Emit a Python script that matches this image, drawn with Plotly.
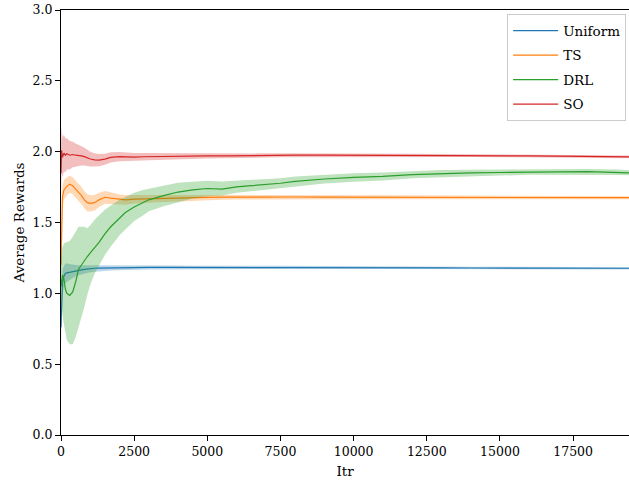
import plotly.graph_objects as go

ITR = [0, 20, 50, 100, 150, 200, 300, 400, 500, 600, 700, 800, 900, 1000,
       1150, 1300, 1500, 1700, 2000, 2200, 2500, 2800, 3000, 3500, 4000,
       4500, 5000, 5500, 6000, 6500, 7000, 7500, 8000, 9000, 10000, 11000,
       12000, 13000, 14000, 15000, 16000, 17000, 18000, 19000, 19410]

UNIFORM_MEAN = [0.76, 0.98, 1.08, 1.12, 1.14, 1.145,
                1.15, 1.155, 1.16, 1.163, 1.166, 1.169, 1.172, 1.175,
                1.177, 1.178, 1.179, 1.18,
                1.181, 1.182, 1.182, 1.183, 1.183,
                1.183, 1.183, 1.183, 1.184, 1.184, 1.184, 1.184, 1.185, 1.185, 1.184,
                1.183, 1.182, 1.181, 1.18, 1.18, 1.179, 1.179, 1.178, 1.178, 1.177, 1.177,
                1.177]
UNIFORM_SPREAD = [0.12, 0.1, 0.085, 0.075, 0.07, 0.065,
                  0.055, 0.045, 0.04, 0.036, 0.033, 0.03, 0.028, 0.026,
                  0.024, 0.022, 0.02, 0.019,
                  0.018, 0.017, 0.016, 0.015, 0.015,
                  0.014, 0.013, 0.012, 0.012, 0.011, 0.011, 0.011, 0.01, 0.01, 0.01,
                  0.01, 0.009, 0.009, 0.009, 0.009, 0.008, 0.008, 0.008, 0.008, 0.008, 0.008,
                  0.008]

TS_MEAN = [1.2, 1.5, 1.68, 1.73, 1.745, 1.755,
           1.77, 1.76, 1.735, 1.715, 1.69, 1.66, 1.64, 1.635,
           1.64, 1.66, 1.678, 1.672,
           1.662, 1.66, 1.665, 1.667, 1.668,
           1.67, 1.672, 1.675, 1.677, 1.679, 1.68, 1.68, 1.68, 1.68, 1.68,
           1.679, 1.679, 1.678, 1.678, 1.678, 1.677, 1.677, 1.676, 1.676, 1.675, 1.675,
           1.675]
TS_SPREAD = [0.25, 0.12, 0.08, 0.07, 0.065, 0.063,
             0.06, 0.06, 0.06, 0.06, 0.06, 0.06, 0.06, 0.058,
             0.055, 0.05, 0.045, 0.041,
             0.036, 0.034, 0.031, 0.029, 0.027,
             0.025, 0.023, 0.021, 0.02, 0.019, 0.018, 0.017, 0.017, 0.016, 0.016,
             0.015, 0.014, 0.014, 0.013, 0.013, 0.012, 0.012, 0.012, 0.011, 0.011, 0.011,
             0.011]

DRL_MEAN = [1.1, 1.05, 1.13, 1.1, 1.03, 1.0,
            0.985, 1.01, 1.08, 1.17, 1.2, 1.235, 1.26, 1.285,
            1.32, 1.36, 1.42, 1.47,
            1.53, 1.57, 1.61, 1.64, 1.66,
            1.69, 1.715, 1.73, 1.74, 1.735, 1.752, 1.76, 1.768, 1.777, 1.79,
            1.807, 1.818, 1.825, 1.838, 1.845, 1.85, 1.853, 1.858, 1.858, 1.859, 1.855,
            1.851]
DRL_LOW = [0.95, 0.9, 0.85, 0.78, 0.72, 0.67,
           0.64, 0.64, 0.69, 0.76, 0.83, 0.905, 0.99, 1.06,
           1.14, 1.2, 1.27, 1.33,
           1.41, 1.45, 1.51, 1.55, 1.58,
           1.615, 1.645, 1.67, 1.685, 1.69, 1.71, 1.72, 1.73, 1.742, 1.755,
           1.775, 1.788, 1.797, 1.812, 1.82, 1.827, 1.831, 1.837, 1.838, 1.84, 1.836,
           1.833]
DRL_HIGH = [1.25, 1.3, 1.33, 1.35, 1.36, 1.36,
            1.37, 1.4, 1.44, 1.47, 1.47, 1.47, 1.46, 1.48,
            1.52, 1.55, 1.59, 1.62,
            1.66, 1.68, 1.71, 1.73, 1.74,
            1.76, 1.78, 1.79, 1.795, 1.79, 1.795, 1.80, 1.806, 1.812, 1.825,
            1.839, 1.848, 1.853, 1.864, 1.87, 1.873, 1.875, 1.879, 1.878, 1.878, 1.874,
            1.869]

SO_MEAN = [1.85, 2.01, 1.96, 1.99, 1.975, 1.985,
           1.975, 1.98, 1.975, 1.975, 1.97, 1.965, 1.955, 1.948,
           1.942, 1.94, 1.947, 1.96,
           1.965, 1.963, 1.962, 1.964, 1.965,
           1.966, 1.966, 1.968, 1.97, 1.97, 1.972, 1.972, 1.973, 1.974, 1.975,
           1.975, 1.975, 1.974, 1.974, 1.973, 1.972, 1.971, 1.97, 1.968, 1.966, 1.964,
           1.963]
SO_SPREAD = [0.2, 0.16, 0.14, 0.13, 0.12, 0.11,
             0.1, 0.09, 0.082, 0.075, 0.068, 0.062, 0.057, 0.052,
             0.047, 0.043, 0.039, 0.036,
             0.032, 0.03, 0.028, 0.026, 0.025,
             0.022, 0.02, 0.019, 0.018, 0.017, 0.016, 0.015, 0.015, 0.014, 0.014,
             0.013, 0.012, 0.012, 0.011, 0.011, 0.01, 0.01, 0.01, 0.01, 0.01, 0.01,
             0.01]

X_TICKS = [0, 2500, 5000, 7500, 10000, 12500, 15000, 17500]
Y_TICKS = [0.0, 0.5, 1.0, 1.5, 2.0, 2.5, 3.0]

series = [
    ("Uniform", "#1f77b4", "rgba(31,119,180,0.3)", UNIFORM_MEAN,
     [m - s for m, s in zip(UNIFORM_MEAN, UNIFORM_SPREAD)],
     [m + s for m, s in zip(UNIFORM_MEAN, UNIFORM_SPREAD)]),
    ("TS", "#ff7f0e", "rgba(255,127,14,0.3)", TS_MEAN,
     [m - s for m, s in zip(TS_MEAN, TS_SPREAD)],
     [m + s for m, s in zip(TS_MEAN, TS_SPREAD)]),
    ("DRL", "#2ca02c", "rgba(44,160,44,0.3)", DRL_MEAN, DRL_LOW, DRL_HIGH),
    ("SO", "#d62728", "rgba(214,39,40,0.3)", SO_MEAN,
     [m - s for m, s in zip(SO_MEAN, SO_SPREAD)],
     [m + s for m, s in zip(SO_MEAN, SO_SPREAD)]),
]

FONT = "DejaVu Serif, serif"

fig = go.Figure()
for i, (name, color, fill, mean, low, high) in enumerate(series):
    fig.add_trace(go.Scatter(x=ITR, y=mean, mode="lines", name=name,
                             line=dict(color=color, width=1.2),
                             legendgroup=name, showlegend=True))
    fig.add_trace(go.Scatter(x=ITR, y=high, mode="lines",
                             line=dict(width=0, color=fill),
                             legendgroup=name, showlegend=False, hoverinfo="skip"))
    fig.add_trace(go.Scatter(x=ITR, y=low, mode="lines",
                             line=dict(width=0, color=fill), fill="tonexty",
                             fillcolor=fill, legendgroup=name,
                             showlegend=False, hoverinfo="skip"))

fig.update_layout(
    width=629, height=482,
    margin=dict(l=61, r=0, t=10, b=47),
    paper_bgcolor="white", plot_bgcolor="white",
    font=dict(family=FONT, size=13, color="black"),
    showlegend=True,
    legend=dict(x=0.995, y=0.99, xanchor="right", yanchor="top",
                bordercolor="#cccccc", borderwidth=1,
                bgcolor="rgba(255,255,255,0.8)",
                font=dict(family=FONT, size=13.5, color="black"), tracegroupgap=4,
                traceorder="grouped", itemwidth=45),
)
fig.update_xaxes(range=[0, 19410], tickvals=X_TICKS,
                 ticktext=[str(v) for v in X_TICKS],
                 tickfont=dict(family=FONT, size=12.5, color="black"),
                 showline=True, linecolor="black", linewidth=1, mirror=True,
                 ticks="outside", ticklen=5, tickwidth=1, tickcolor="black",
                 showgrid=False, zeroline=False,
                 title=dict(text="Itr", standoff=8,
                            font=dict(family=FONT, size=13.5, color="black")))
fig.update_yaxes(range=[0, 3], tickvals=Y_TICKS,
                 ticktext=[f"{v:.1f}" for v in Y_TICKS],
                 tickfont=dict(family=FONT, size=12.5, color="black"),
                 showline=True, linecolor="black", linewidth=1, mirror=False,
                 ticks="outside", ticklen=5, tickwidth=1, tickcolor="black",
                 showgrid=False, zeroline=False,
                 title=dict(text="Average Rewards", standoff=4,
                            font=dict(family=FONT, size=13.5, color="black")))

fig.write_html("out.html", config={"displayModeBar": False},
               post_script="document.body.style.margin='0';document.body.style.overflow='hidden';")
